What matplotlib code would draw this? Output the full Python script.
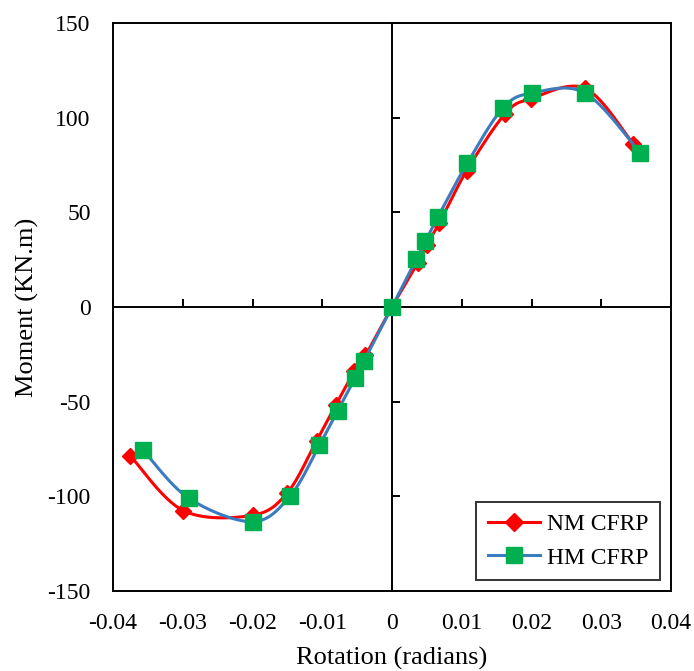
import numpy as np
import matplotlib
matplotlib.use("Agg")
import matplotlib.pyplot as plt
from matplotlib.lines import Line2D

# ---- data ----
nm_x = [-0.0375, -0.0299, -0.0200, -0.0150, -0.0108, -0.0081, -0.0054, -0.0038, 0.0,
        0.0037, 0.0050, 0.0068, 0.0107, 0.0162, 0.0199, 0.0277, 0.0346]
nm_y = [-78.7, -107.6, -110.0, -98.1, -70.6, -52.0, -34.0, -25.5, 0.0,
        23.5, 33.0, 44.5, 72.0, 102.0, 110.0, 115.5, 86.0]

hm_x = [-0.0357, -0.0291, -0.0200, -0.0146, -0.0104, -0.0078, -0.0053, -0.0040, 0.0,
        0.0035, 0.0048, 0.0066, 0.0108, 0.0159, 0.0201, 0.0277, 0.0356]
hm_y = [-75.5, -101.1, -113.4, -99.8, -72.9, -54.9, -37.7, -28.4, 0.0,
        25.4, 35.0, 47.7, 76.0, 105.1, 113.0, 113.0, 81.4]

x_ticks = [-0.04, -0.03, -0.02, -0.01, 0, 0.01, 0.02, 0.03, 0.04]
x_ticklabels = ["-0.04", "-0.03", "-0.02", "-0.01", "0", "0.01", "0.02", "0.03", "0.04"]
y_ticks = [-150, -100, -50, 0, 50, 100, 150]
y_ticklabels = ["-150", "-100", "-50", "0", "50", "100", "150"]
XLIM = (-0.04, 0.04)
YLIM = (-150, 150)


def smooth(xs, ys, n=30):
    """Catmull-Rom style smoothing (like Excel smoothed lines), in normalized space."""
    xs = np.asarray(xs, float)
    ys = np.asarray(ys, float)
    sx = (XLIM[1] - XLIM[0])
    sy = (YLIM[1] - YLIM[0])
    P = np.column_stack([xs / sx, ys / sy])
    P = np.vstack([P[0], P, P[-1]])
    out = []
    t = np.linspace(0, 1, n)[:, None]
    for i in range(1, len(P) - 2):
        p0, p1, p2, p3 = P[i - 1], P[i], P[i + 1], P[i + 2]
        c1 = p1 + (p2 - p0) / 6.0
        c2 = p2 - (p3 - p1) / 6.0
        seg = ((1 - t) ** 3) * p1 + 3 * ((1 - t) ** 2) * t * c1 + 3 * (1 - t) * t ** 2 * c2 + t ** 3 * p2
        out.append(seg if i == 1 else seg[1:])
    out = np.vstack(out)
    return out[:, 0] * sx, out[:, 1] * sy


plt.rcParams['font.family'] = ['Liberation Serif', 'DejaVu Serif']

fig = plt.figure(figsize=(6.94, 6.71), dpi=100)
rect = [113 / 694, 1 - 591 / 671, (671 - 113) / 694, (591 - 23) / 671]

# Frame axes with tick labels at bottom / left
axf = fig.add_axes(rect)
axf.set_xlim(*XLIM)
axf.set_ylim(*YLIM)
axf.set_xticks(x_ticks)
axf.set_xticklabels(x_ticklabels)
axf.set_yticks(y_ticks)
axf.set_yticklabels(y_ticklabels)
axf.tick_params(axis='x', length=0, labelsize=17, pad=16)
axf.tick_params(axis='y', length=0, labelsize=17, pad=16)
for s in axf.spines.values():
    s.set_linewidth(1.4)
    s.set_color('black')
axf.set_xlabel("Rotation (radians)", fontsize=19, labelpad=9)
axf.set_ylabel("Moment (KN.m)", fontsize=19, labelpad=6)

# Data axes with crossing zero axes
ax = fig.add_axes(rect)
ax.patch.set_alpha(0)
ax.set_xlim(*XLIM)
ax.set_ylim(*YLIM)
ax.spines['left'].set_position(('data', 0))
ax.spines['bottom'].set_position(('data', 0))
ax.spines['top'].set_visible(False)
ax.spines['right'].set_visible(False)
for k in ('left', 'bottom'):
    ax.spines[k].set_linewidth(1.4)
ax.set_xticks(x_ticks)
ax.set_yticks(y_ticks)
ax.tick_params(direction='in', length=6, width=1.4, labelbottom=False, labelleft=False)

sx, sy = smooth(nm_x, nm_y)
ax.plot(sx, sy, color='#FF0000', lw=2.2, zorder=3)
ax.plot(nm_x, nm_y, ls='none', marker='D', ms=8.5, color='#FF0000', zorder=4)
hx, hy = smooth(hm_x, hm_y)
ax.plot(hx, hy, color='#3B7BBF', lw=2.2, zorder=5)
ax.plot(hm_x, hm_y, ls='none', marker='s', ms=11, color='#00B050', zorder=6)

h1 = Line2D([], [], color='#FF0000', lw=2.2, marker='D', ms=9)
h2 = Line2D([], [], color='#3B7BBF', lw=2.2, marker='s', ms=11, mfc='#00B050', mec='#00B050')
leg = ax.legend([h1, h2], ["NM CFRP", "HM CFRP"], loc='lower right', fontsize=17,
                frameon=True, fancybox=False, edgecolor='black', borderaxespad=0.45,
                handlelength=2.2, labelspacing=0.5, borderpad=0.5, handletextpad=0.3)
leg.get_frame().set_linewidth(1.4)
leg.set_zorder(10)

fig.savefig("out.png", dpi=100)
